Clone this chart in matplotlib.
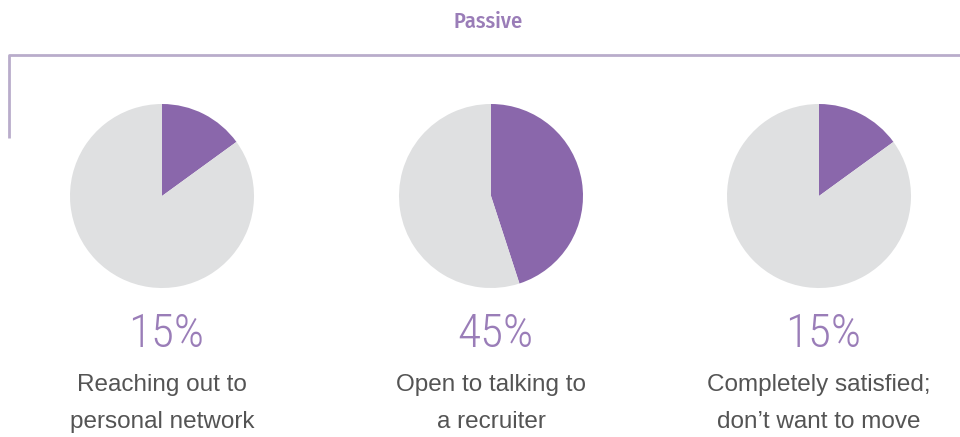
import matplotlib.pyplot as plt

# Share of each passive group
shares = [15, 45, 15]
pct_labels = ["15%", "45%", "15%"]
descriptions = [
    "Reaching out to\npersonal network",
    "Open to talking to\na recruiter",
    "Completely satisfied;\ndon’t want to move",
]
header = "Passive"

PURPLE = "#8a67ab"
GREY = "#dfe0e1"
PCT_COLOR = "#9a7db8"
TEXT_COLOR = "#545454"
LINE_COLOR = "#b9accb"

W, H = 960, 437

fig = plt.figure(figsize=(W / 100, H / 100), dpi=100)
ax = fig.add_axes([0, 0, 1, 1])
ax.set_xlim(0, W)
ax.set_ylim(0, H)
ax.set_aspect("equal")
ax.axis("off")

# bracket over the three groups
ax.plot([9, 9, W], [H - 138, H - 55, H - 55], color=LINE_COLOR, lw=2,
        solid_capstyle="butt")
ax.text(488, H - 22, header, ha="center", va="center", fontsize=16,
        color=PCT_COLOR, family="Fira Sans Condensed", fontweight=500)

centers = [162, 491, 819]
radius = 92
for cx, share, pct, desc in zip(centers, shares, pct_labels, descriptions):
    ax.pie([share, 100 - share], colors=[PURPLE, GREY], startangle=90,
           counterclock=False, center=(cx, H - 196), radius=radius,
           wedgeprops=dict(linewidth=0))
    ax.text(cx + 4, H - 334, pct, ha="center", va="center", fontsize=34,
            color=PCT_COLOR, family="Roboto Condensed", fontweight=300)
    line1, line2 = desc.split("\n")
    ax.text(cx, H - 385, line1, ha="center", va="center", fontsize=17.5,
            color=TEXT_COLOR, family="Liberation Sans")
    ax.text(cx, H - 422, line2, ha="center", va="center", fontsize=17.5,
            color=TEXT_COLOR, family="Liberation Sans")

ax.set_xlim(0, W)
ax.set_ylim(0, H)
fig.savefig("out.png", dpi=100, facecolor="white")
